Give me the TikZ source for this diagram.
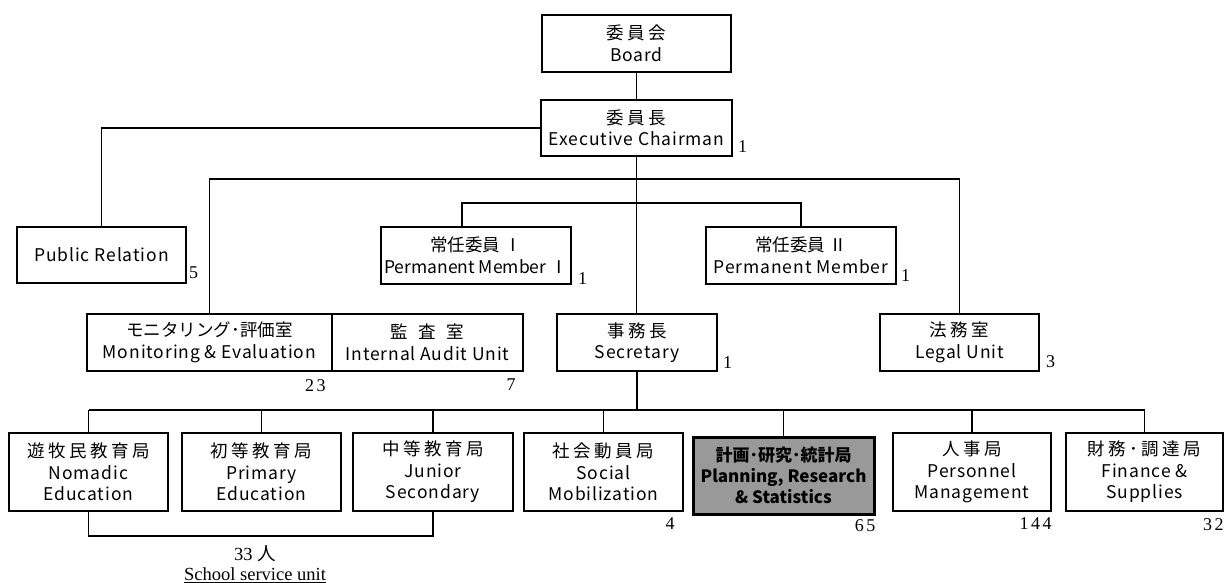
\documentclass[tikz,border=0pt]{standalone}
\usepackage{fontspec}
\setmainfont{Liberation Serif}
\newfontfamily\gothic[LetterSpace=5]{Noto Sans CJK JP}
\newfontfamily\jafont[LetterSpace=20]{Noto Sans CJK JP}
\newfontfamily\janarrow[LetterSpace=0]{Noto Sans CJK JP}
\newfontfamily\jawide[LetterSpace=60]{Noto Sans CJK JP}
\newfontfamily\planfont{Noto Sans CJK JP}
\newfontfamily\numfont[LetterSpace=14]{Liberation Serif}
\newfontfamily\cjkplain{Noto Sans CJK JP}
\usetikzlibrary{positioning,calc}
\definecolor{planfill}{gray}{0.6}

\begin{document}
\begin{tikzpicture}[x=1pt,y=-1pt,
	unit/.style={rectangle,draw,line width=1.8pt,inner sep=0pt,align=center,font=\gothic\fontsize{17.5}{21.5}\selectfont},
	num/.style={inner sep=0pt,font=\numfont\fontsize{18}{18}\selectfont},
	link/.style={line width=1.8pt}]
	\useasboundingbox (0,0) rectangle (1225,583);

	% board and chairman
	\node[unit,minimum width=189pt,minimum height=57pt] (board) at (636.5,43.5) {{\jafont 委員会}\\Board};
	\node[unit,minimum width=191pt,minimum height=56pt] (chair) at (636.5,128) {{\jafont 委員長}\\Executive Chairman};
	\node[unit,minimum width=169pt,minimum height=56pt] (pr) at (101.5,255) {Public Relation};
	\node[unit,minimum width=190pt,minimum height=57pt] (pm1) at (476,255.5) {{\janarrow 常任委員 Ⅰ}\\{\janarrow Permanent Member Ⅰ}};
	\node[unit,minimum width=190pt,minimum height=57pt] (pm2) at (801,255.5) {{\janarrow 常任委員 Ⅱ}\\Permanent Member};

	% offices
	\node[unit,minimum width=245pt,minimum height=57pt] (me) at (209.5,342.5) {{\janarrow モニタリング･評価室}\\Monitoring \& Evaluation};
	\node[unit,minimum width=191pt,minimum height=57pt] (audit) at (427.5,342.5) {{\jawide 監査室}\\Internal Audit Unit};
	\node[unit,minimum width=160pt,minimum height=57pt] (sec) at (637,342.5) {{\jafont 事務長}\\Secretary};
	\node[unit,minimum width=159pt,minimum height=57pt] (legal) at (959.5,342.5) {{\jafont 法務室}\\Legal Unit};

	% departments
	\node[unit,minimum width=159pt,minimum height=78pt] (nomad) at (88.5,472) {{\jafont 遊牧民教育局}\\Nomadic\\Education};
	\node[unit,minimum width=159pt,minimum height=78pt] (primary) at (261.5,472) {{\jafont 初等教育局}\\Primary\\Education};
	\node[unit,minimum width=160pt,minimum height=78pt] (junior) at (433,472) {{\jafont 中等教育局}\\Junior\\Secondary};
	\node[unit,minimum width=159pt,minimum height=78pt] (social) at (603.5,472) {{\jafont 社会動員局}\\Social\\Mobilization};
	\node[unit,minimum width=181pt,minimum height=77pt,line width=3pt,fill=planfill,font=\planfont\bfseries\fontsize{17}{21}\selectfont] (plan) at (783.5,475.5) {計画･研究･統計局\\Planning, Research\\\& Statistics};
	\node[unit,minimum width=158pt,minimum height=78pt] (pers) at (972,472) {{\jafont 人事局}\\Personnel\\Management};
	\node[unit,minimum width=157pt,minimum height=78pt] (fin) at (1144.5,472) {{\jafont 財務･調達局}\\Finance \&\\Supplies};

	% staff numbers
	\node[num,anchor=south west] (nchair) at ([xshift=5pt,yshift=4pt]chair.south east) {1};
	\node[num,anchor=south west] (npr) at ([xshift=2pt,yshift=5pt]pr.south east) {5};
	\node[num,anchor=south west] (npm1) at ([xshift=6pt,yshift=0pt]pm1.south east) {1};
	\node[num,anchor=south west] (npm2) at ([xshift=4pt,yshift=3pt]pm2.south east) {1};
	\node[num,anchor=south west] (nsec) at ([xshift=5pt,yshift=3pt]sec.south east) {1};
	\node[num,anchor=south west] (nlegal) at ([xshift=6pt,yshift=4pt]legal.south east) {3};
	\node[num,anchor=north east] (nme) at ([xshift=-7pt,yshift=-7pt]me.south east) {23};
	\node[num,anchor=north east] (naudit) at ([xshift=-8pt,yshift=-7pt]audit.south east) {7};
	\node[num,anchor=north east] (nsocial) at ([xshift=-9pt,yshift=-6pt]social.south east) {4};
	\node[num,anchor=north east] (nplan) at ([xshift=0pt,yshift=-4pt]plan.south east) {65};
	\node[num,anchor=north east] (npers) at ([xshift=0pt,yshift=-6pt]pers.south east) {144};
	\node[num,anchor=north east] (nfin) at ([xshift=0pt,yshift=-6pt]fin.south east) {32};

	% school service unit
	\node[num,font=\fontsize{18.5}{18.5}\selectfont] (svcnum) at (255,554) {33 {\cjkplain 人}};
	\node[num,font=\fontsize{18.5}{18.5}\selectfont] (svcname) at (255,575) {\underline{School service unit}};

	% connectors
	\coordinate (topbar) at (0,179);
	\coordinate (pmbar) at (0,203);
	\coordinate (deptbar) at (0,410);
	\coordinate (svcbar) at (0,536);
	\coordinate (pm1in) at (462,0);

	\draw[link] (board) -- (chair);
	\draw[link] (chair.west) -| (pr.north);
	\draw[link] (chair.south) -- (chair.south |- sec.north);
	\draw[link] (me.north) -- (me.north |- topbar) -- (legal.north |- topbar) -- (legal.north);
	\draw[link] (pm1in |- pm1.north) -- (pm1in |- pmbar) -- (pm2.north |- pmbar) -- (pm2.north);
	\draw[link] (sec.south) -- (sec.south |- deptbar);
	\draw[link] (nomad.north |- deptbar) -- (fin.north |- deptbar);
	\foreach \d in {nomad,primary,junior,social,plan,pers,fin}
		\draw[link] (\d.north) -- (\d.north |- deptbar);
	\draw[link] (nomad.south) |- (junior.south |- svcbar) -- (junior.south);
\end{tikzpicture}
\end{document}
